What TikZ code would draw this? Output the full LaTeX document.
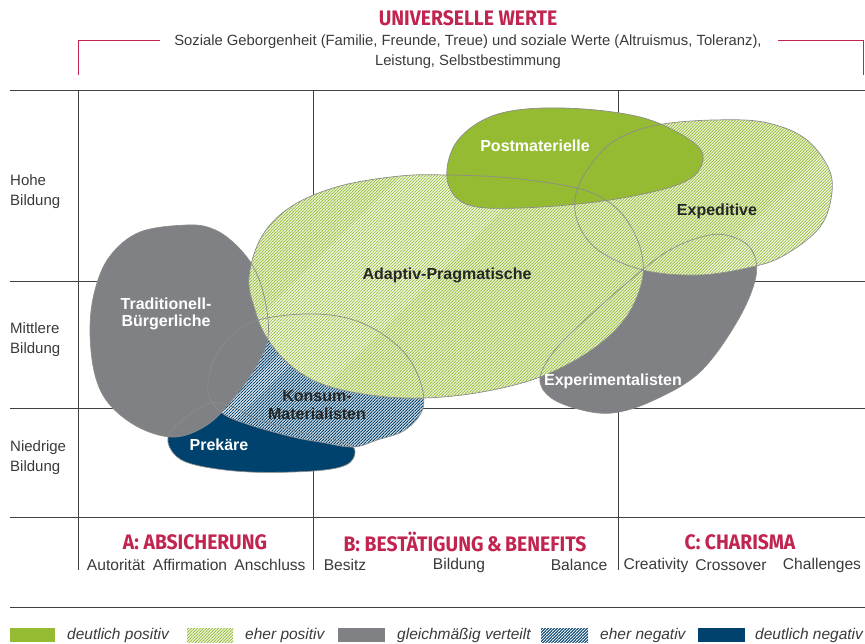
\documentclass[tikz,border=0pt]{standalone}
\usepackage{fontspec}
\setmainfont{Liberation Sans}
\newfontfamily\headfont[FakeStretch=0.92]{Fira Sans}
\usetikzlibrary{patterns.meta}
\definecolor{crim}{HTML}{C1244F}
\definecolor{gsolid}{HTML}{95BB33}
\definecolor{ghatch}{HTML}{9CC23F}
\definecolor{gr}{HTML}{808184}
\definecolor{dblue}{HTML}{00426E}
\definecolor{txt}{HTML}{3A3A3A}
\definecolor{outl}{HTML}{8C8C8C}
\tikzset{
  grid/.style={draw=black!75, line width=0.8pt},
  bracket/.style={draw=crim, line width=0.9pt},
  desc/.style={text=txt, font=\fontsize{14.8}{16}\selectfont, inner sep=0pt},
  rowlab/.style={text=txt, font=\fontsize{15}{20}\selectfont, align=left, anchor=west, inner sep=0pt},
  colhead/.style={text=crim, font=\headfont\bfseries\fontsize{21}{22}\selectfont, inner sep=0pt},
  sub/.style={text=txt, font=\fontsize{15.6}{18}\selectfont, inner sep=0pt},
  leg/.style={text=txt, font=\itshape\fontsize{15.5}{17}\selectfont, anchor=west, inner sep=0pt},
  fsolid/.style={fill=gsolid},
  fhatch/.style={fill=white, postaction={pattern={Lines[angle=45,distance=2.12pt,line width=1pt]}, pattern color=ghatch}},
  fgray/.style={fill=gr},
  fbhatch/.style={fill=white, postaction={pattern={Lines[angle=45,distance=2.12pt,line width=1.05pt]}, pattern color=dblue}},
  fdblue/.style={fill=dblue},
  outline/.style={draw=outl, line width=0.7pt},
  lab/.style={font=\bfseries\fontsize{16}{17.5}\selectfont, align=center, inner sep=0pt},
}
\begin{document}
\begin{tikzpicture}[x=1pt,y=-1pt]
\useasboundingbox (0,0) rectangle (865,643);
% grid
\draw[grid] (10,90) -- (865,90);
\draw[grid] (10,281) -- (865,281);
\draw[grid] (10,408) -- (865,408);
\draw[grid] (10,517) -- (865,517);
\draw[grid] (10,607) -- (865,607);
\draw[grid] (78,90) -- (78,570);
\draw[grid] (313,90) -- (313,570);
\draw[grid] (618,90) -- (618,570);
% header
\node[colhead] (title) at (468,18) {UNIVERSELLE WERTE};
\node[desc] (d1) at (468,42) {Soziale Geborgenheit (Familie, Freunde, Treue) und soziale Werte (Altruismus, Toleranz),};
\node[desc] (d2) at (468,62) {Leistung, Selbstbestimmung};
\draw[bracket] (78,75) -- (78,40) -- (160,40);
\draw[bracket] (778,40) -- (863,40) -- (863,75);
% row labels
\node[rowlab] (r1) at (10,192) {Hohe\\Bildung};
\node[rowlab] (r2) at (10,340) {Mittlere\\Bildung};
\node[rowlab] (r3) at (10,458) {Niedrige\\Bildung};
% shapes
\def\prek{(168,437) (176,456) (200,466) (250,472) (313,471) (346,465) (355,452) (345,443) (300,432) (260,420) (233,407) (210,403) (185,418)}
\def\kons{(208,392) (214,360) (233,334) (262,319) (317,314) (362,323) (400,348) (419,378) (423,408) (405,430) (377,440) (353,447) (320,442) (293,437) (250,425) (222,413)}
\def\trad{(187,225) (140,232) (110,256) (95,290) (90,330) (95,375) (110,405) (140,428) (175,437) (207,425) (232,400) (255,368) (268,337) (265,300) (254,268) (235,244) (213,229)}
\def\expm{(540,378) (550,397) (578,409) (612,413) (652,401) (700,372) (738,320) (756,276) (751,249) (730,236) (705,236) (668,251) (628,282) (585,320) (555,350)}
\def\adap{(249,277) (255,310) (267,338) (290,365) (322,384) (370,395) (423,398) (482,392) (540,377) (590,351) (624,320) (641,285) (642,255) (630,225) (610,203) (577,188) (510,178) (447,175) (400,176) (340,186) (292,206) (262,236)}
\def\expd{(663,124) (713,120) (763,122) (803,137) (827,165) (832,192) (820,227) (783,256) (747,268) (697,275) (643,270) (598,250) (577,220) (578,187) (603,150) (630,133)}
\def\post{(447,178) (458,140) (498,114) (563,108) (640,117) (690,140) (703,160) (682,183) (610,200) (520,208) (466,204)}
\fill[fdblue] plot[smooth cycle, tension=0.6] coordinates {\prek};
\path[fbhatch] plot[smooth cycle, tension=0.6] coordinates {\kons};
\fill[fgray] plot[smooth cycle, tension=0.6] coordinates {\trad};
\fill[fgray] plot[smooth cycle, tension=0.6] coordinates {\expm};
\path[fhatch] plot[smooth cycle, tension=0.6] coordinates {\adap};
\path[fhatch] plot[smooth cycle, tension=0.6] coordinates {\expd};
\fill[fsolid] plot[smooth cycle, tension=0.6] coordinates {\post};
\foreach \s in {\prek,\kons,\trad,\expm,\adap,\expd,\post}{
  \draw[outline] plot[smooth cycle, tension=0.6] coordinates {\s};
}
% labels
\node[lab, text=white] (lpost) at (535,146) {Postmaterielle};
\node[lab, text=black!85] (lexpd) at (717,211) {Expeditive};
\node[lab, text=black!85] (ladap) at (447,275) {Adaptiv-Pragmatische};
\node[lab, text=white] (ltrad) at (166,314) {Traditionell-\\Bürgerliche};
\node[lab, text=black!85] (lkons) at (317,405) {Konsum-\\Materialisten};
\node[lab, text=white] (lprek) at (219,445) {Prekäre};
\node[lab, text=white] (lexpm) at (613,381) {Experimentalisten};
% column headers
\node[colhead] (ca) at (195,542) {A: ABSICHERUNG};
\node[colhead] (cb) at (465,542) {B: BESTÄTIGUNG\,\&\,BENEFITS};
\node[colhead] (cc) at (740,542) {C: CHARISMA};
\node[sub] (s1) at (116,565) {Autorität};
\node[sub] (s2) at (190,565) {Affirmation};
\node[sub] (s3) at (270,565) {Anschluss};
\node[sub] (s4) at (345,565) {Besitz};
\node[sub] (s5) at (459,565) {Bildung};
\node[sub] (s6) at (579,565) {Balance};
\node[sub] (s7) at (656,565) {Creativity};
\node[sub] (s8) at (731,565) {Crossover};
\node[sub] (s9) at (822,565) {Challenges};
% legend
\fill[fsolid] (10,628) rectangle (55,642);
\node[leg] (l1) at (67,635) {deutlich positiv};
\path[fhatch] (187,628) rectangle (233,642);
\node[leg] (l2) at (245,635) {eher positiv};
\fill[fgray] (338,628) rectangle (385,642);
\node[leg] (l3) at (397,635) {gleichmäßig verteilt};
\path[fbhatch] (541,628) rectangle (588,642);
\node[leg] (l4) at (600,635) {eher negativ};
\fill[fdblue] (698,628) rectangle (745,642);
\node[leg] (l5) at (755,635) {deutlich negativ};
\end{tikzpicture}
\end{document}
